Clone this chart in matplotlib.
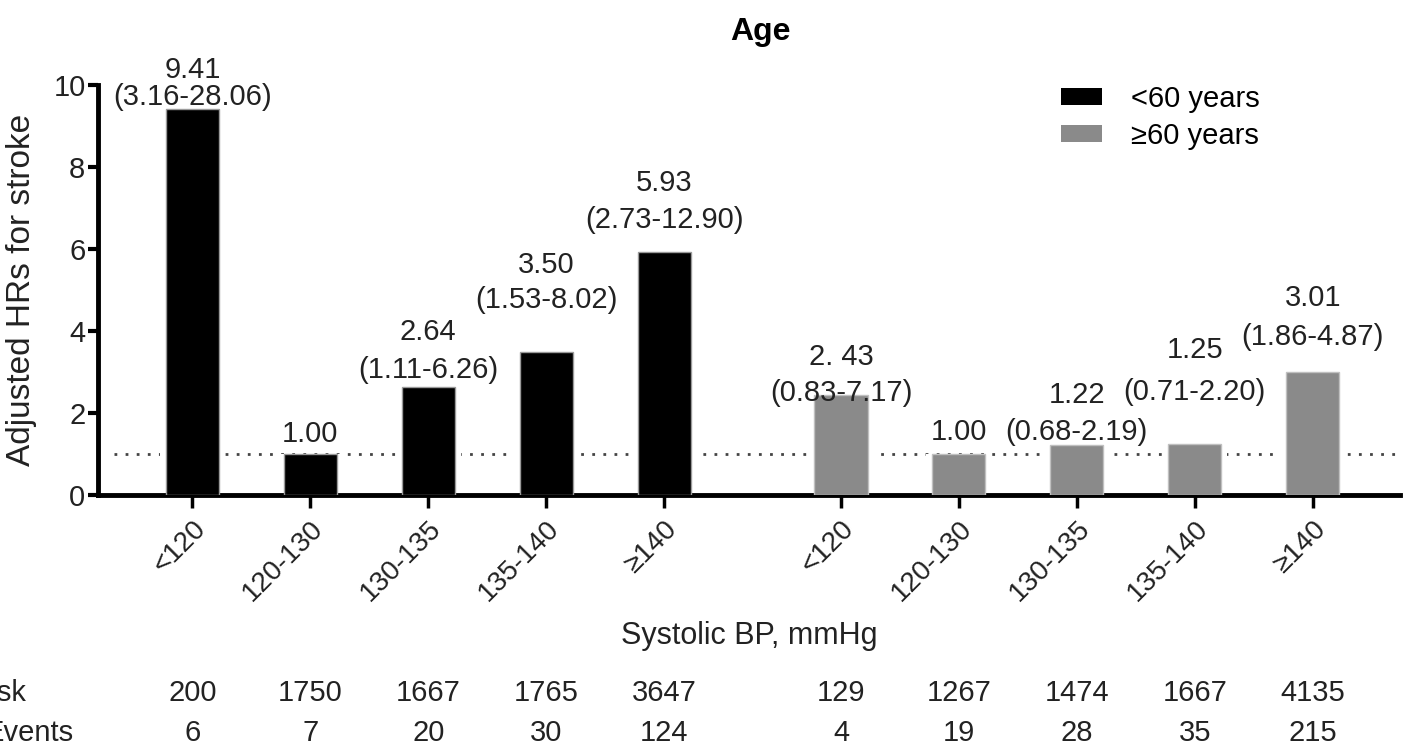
import numpy as np
import matplotlib
matplotlib.use("Agg")
import matplotlib.pyplot as plt
from matplotlib.patches import Patch

plt.rcParams['font.family'] = ['Liberation Sans', 'DejaVu Sans']

# ---- data ----
bp_categories = ["<120", "120-130", "130-135", "135-140", "\u2265140"]
group_names = ["<60 years", "\u226560 years"]

hr_young = [9.41, 1.00, 2.64, 3.50, 5.93]
hr_old = [2.43, 1.00, 1.22, 1.25, 3.01]

hr_text_young = ["9.41", "1.00", "2.64", "3.50", "5.93"]
hr_text_old = ["2. 43", "1.00", "1.22", "1.25", "3.01"]

ci_young = ["(3.16-28.06)", "", "(1.11-6.26)", "(1.53-8.02)", "(2.73-12.90)"]
ci_old = ["(0.83-7.17)", "", "(0.68-2.19)", "(0.71-2.20)", "(1.86-4.87)"]

at_risk_young = [200, 1750, 1667, 1765, 3647]
at_risk_old = [129, 1267, 1474, 1667, 4135]
events_young = [6, 7, 20, 30, 124]
events_old = [4, 19, 28, 35, 215]

reference_hr = 1.0

# ---- layout ----
n = len(bp_categories)
group_gap = 1.5
x_young = np.arange(n)
x_old = np.arange(n) + (n - 1) + group_gap
bar_w = 0.45

# vertical placement of the annotation lines (value line, CI line)
val_y_young = [10.37, 1.49, 3.98, 5.61, 7.61]
ci_y_young = [9.70, None, 3.05, 4.76, 6.71]
val_y_old = [3.37, 1.54, 2.44, 3.54, 4.80]
ci_y_old = [2.49, None, 1.54, 2.51, 3.85]

black = "#000000"
grey = "#8a8a8a"
txt = "#222222"

fig = plt.figure(figsize=(14.07, 7.5), dpi=100)
ax = fig.add_axes([98 / 1407, 1 - 495 / 750, 1302 / 1407, 410 / 750])

# reference line behind the bars
ax.axhline(reference_hr, xmin=0.012, color="#444444", lw=2,
           linestyle=(0, (1, 3)), zorder=1)

# white halo so the dotted line stops short of each bar
ax.bar(x_young, hr_young, width=bar_w + 0.1, color="white", zorder=2)
ax.bar(x_old, hr_old, width=bar_w + 0.1, color="white", zorder=2)
ax.bar(x_young, hr_young, width=bar_w, color=black, edgecolor="#9a9a9a",
       lw=1, zorder=3, label=group_names[0])
ax.bar(x_old, hr_old, width=bar_w, color=grey, edgecolor="#c0c0c0",
       lw=1, zorder=3, label=group_names[1])

lab_fs = 21
for xs, vt, ct, vy, cy in [(x_young, hr_text_young, ci_young, val_y_young, ci_y_young),
                           (x_old, hr_text_old, ci_old, val_y_old, ci_y_old)]:
    for x, v, c, yv, yc in zip(xs, vt, ct, vy, cy):
        ax.text(x, yv, v, ha="center", va="center", fontsize=lab_fs,
                color=txt, clip_on=False)
        if c:
            ax.text(x, yc, c, ha="center", va="center", fontsize=lab_fs,
                    color=txt, clip_on=False)

ax.set_xlim(-0.8, 10.24)
ax.set_ylim(0, 10)
ax.set_yticks([0, 2, 4, 6, 8, 10])
ax.set_xticks(np.concatenate([x_young, x_old]))
ax.set_xticklabels(bp_categories * 2, rotation=45, ha="right",
                   rotation_mode="anchor", fontsize=20, color=txt)
ax.tick_params(axis="y", labelsize=21, length=7, width=3, pad=2,
               labelcolor=txt)
ax.tick_params(axis="x", length=9, width=2.5, pad=6)

for s in ["top", "right"]:
    ax.spines[s].set_visible(False)
for s in ["left", "bottom"]:
    ax.spines[s].set_linewidth(3.5)

ax.set_ylabel("Adjusted HRs for stroke", fontsize=24, color=txt)
ax.yaxis.set_label_coords(-0.047, 0.5)
ax.set_xlabel("Systolic BP, mmHg", fontsize=22, color=txt, va="center")
ax.xaxis.set_label_coords(0.5, -0.344)

fig.text(760 / 1407, 1 - 32 / 750, "Age", fontsize=23, fontweight="bold",
         ha="center", va="center")

handles = [Patch(facecolor=black, edgecolor="none"),
           Patch(facecolor=grey, edgecolor="none")]
ax.legend(handles, group_names, loc="upper left",
          bbox_to_anchor=(1061 / 1407, 1 - 85 / 750),
          bbox_transform=fig.transFigure, frameon=False, fontsize=21,
          handlelength=1.4, handleheight=0.5, handletextpad=1.0,
          labelspacing=0.3, borderpad=0, borderaxespad=0)

# risk table under the axis
trans = matplotlib.transforms.blended_transform_factory(ax.transData, fig.transFigure)
row_risk_y = 1 - 693 / 750
row_evt_y = 1 - 733 / 750
fig.text(26 / 1407, row_risk_y, "At risk", ha="right", va="center", fontsize=21,
         color=txt)
fig.text(74 / 1407, row_evt_y, "Events", ha="right", va="center", fontsize=21,
         color=txt)
for xs, risk, evt in [(x_young, at_risk_young, events_young),
                      (x_old, at_risk_old, events_old)]:
    for x, r, e in zip(xs, risk, evt):
        ax.text(x, row_risk_y, str(r), transform=trans, ha="center",
                va="center", fontsize=21, color=txt, clip_on=False)
        ax.text(x, row_evt_y, str(e), transform=trans, ha="center",
                va="center", fontsize=21, color=txt, clip_on=False)

fig.savefig("out.png", dpi=100)
